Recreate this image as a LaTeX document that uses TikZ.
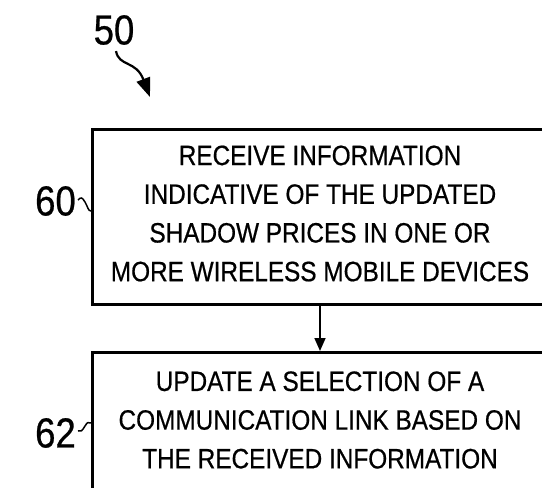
\documentclass[tikz,border=0pt]{standalone}
\usepackage{fontspec}
\setmainfont[FakeStretch=0.87,FakeBold=0.6]{Liberation Sans}
\usetikzlibrary{arrows.meta}
\begin{document}
\begin{tikzpicture}[x=1pt,y=-1pt,
  stepbox/.style={draw,line width=2.6pt,rectangle,minimum width=458pt},
  boxtext/.style={align=center,font=\fontsize{28}{38.7}\selectfont,inner sep=0pt},
  refnum/.style={font=\fontsize{42}{42}\selectfont,inner sep=0pt},
  leader/.style={line width=1.5pt},
  flow/.style={line width=1.6pt,-{Triangle[length=13pt,width=11pt]}},
  pointer/.style={line width=2.2pt,-{Triangle[length=19pt,width=14pt]}}]
\useasboundingbox (0,0) rectangle (542,488);

% reference numeral of the whole flow
\node[refnum] (n50) at (114,30) {50};
\coordinate (p50) at (150,97);
\draw[pointer] (n50.south) ++(2pt,-6pt) .. controls +(3,16) and (136,60) .. (p50);

% step 60
\node[stepbox,minimum height=175pt,anchor=north west] (s60) at (91,128) {};
\node[boxtext] (t60) at (320,213.5) {RECEIVE INFORMATION\\INDICATIVE OF THE UPDATED\\SHADOW PRICES IN ONE OR\\MORE WIRELESS MOBILE DEVICES};
\node[refnum,anchor=east] (n60) at (76,201) {60};
\draw[leader] (n60.east) ++(2pt,1pt)
  .. controls +(3,-3) and +(-3,-5) .. ++(7,2)
  .. controls +(3,5) and +(-3,0) .. (s60.west |- 0,211);

% step 62
\node[stepbox,minimum height=220pt,anchor=north west] (s62) at (91,351) {};
\node[boxtext] (t62) at (320,420) {UPDATE A SELECTION OF A\\COMMUNICATION LINK BASED ON\\THE RECEIVED INFORMATION};
\node[refnum,anchor=east] (n62) at (76,433) {62};
\draw[leader] (n62.east) ++(2pt,2pt)
  .. controls +(3,1) and +(-3,5) .. ++(7,-5)
  .. controls +(3,-5) and +(-3,0) .. (s62.west |- 0,423);

% connector between the steps
\draw[flow] (s60.south -| t60) -- (s62.north -| t60);
\end{tikzpicture}
\end{document}
